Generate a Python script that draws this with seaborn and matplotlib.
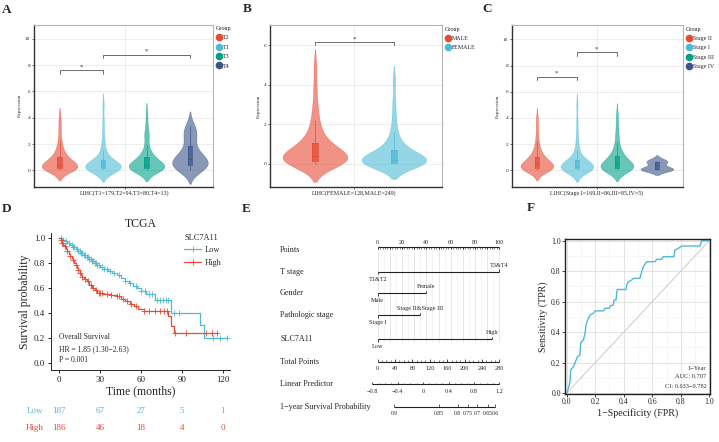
import numpy as np
import pandas as pd
import seaborn as sns
import matplotlib.pyplot as plt
from matplotlib.lines import Line2D
from matplotlib import transforms

sns.set_style("ticks")
plt.rcParams["font.family"] = ["Liberation Serif", "DejaVu Serif"]

W, H = 719, 442
RED, BLUE, GREEN, NAVY = "#E64B35", "#4DBBD5", "#00A087", "#3C5488"
npg = [RED, BLUE, GREEN, NAVY]

# ---------- A: expression by T stage ----------
t_groups = ["T2", "T1", "T3", "T4"]
expr_t2 = [0.0, 0.02, 0.04, 0.05, 0.07, 0.08, 0.1, 0.11, 0.13, 0.15,
           0.17, 0.2, 0.23, 0.26, 0.29, 0.32, 0.34, 0.37, 0.39, 0.42,
           0.46, 0.5, 0.55, 0.6, 0.66, 0.72, 0.78, 0.85, 0.92, 1.0,
           1.1, 1.2, 1.35, 1.5, 1.7, 1.95, 2.3, 2.8, 3.4, 4.0]
expr_t1 = [0.0, 0.02, 0.03, 0.05, 0.06, 0.08, 0.1, 0.11, 0.13, 0.15,
           0.17, 0.19, 0.21, 0.22, 0.24, 0.25, 0.27, 0.28, 0.29, 0.3,
           0.33, 0.36, 0.4, 0.44, 0.48, 0.53, 0.58, 0.63, 0.69, 0.75,
           0.85, 0.95, 1.1, 1.3, 1.55, 1.85, 2.3, 2.9, 3.8, 5.0]
expr_t3 = [0.0, 0.02, 0.04, 0.05, 0.07, 0.08, 0.09, 0.1, 0.11, 0.12,
           0.15, 0.18, 0.21, 0.24, 0.27, 0.3, 0.33, 0.35, 0.38, 0.4,
           0.44, 0.48, 0.53, 0.58, 0.64, 0.7, 0.77, 0.84, 0.92, 1.0,
           1.1, 1.25, 1.4, 1.6, 1.9, 2.5, 2.7, 2.9, 3.5, 4.3]
expr_t4 = [0.05, 0.15, 0.25, 0.3, 0.45, 0.6, 0.7, 0.85, 1.0, 1.3,
           1.45, 2.2, 2.6, 3.0, 3.4]
t_label = "LIHC(T1=179,T2=94,T3=80,T4=13)"

# ---------- B: expression by gender ----------
sex_groups = ["MALE", "FEMALE"]
expr_male = [0.0, 0.02, 0.04, 0.06, 0.08, 0.1, 0.11, 0.12, 0.14, 0.15,
             0.18, 0.21, 0.24, 0.27, 0.3, 0.32, 0.34, 0.36, 0.38, 0.4,
             0.45, 0.5, 0.56, 0.62, 0.68, 0.75, 0.82, 0.9, 0.97, 1.05,
             1.15, 1.3, 1.45, 1.65, 1.9, 2.2, 2.6, 3.1, 3.9, 4.9]
expr_female = [0.0, 0.01, 0.02, 0.02, 0.03, 0.03, 0.04, 0.04, 0.05, 0.05,
               0.07, 0.09, 0.1, 0.12, 0.13, 0.15, 0.16, 0.18, 0.19, 0.2,
               0.24, 0.28, 0.32, 0.36, 0.41, 0.46, 0.52, 0.58, 0.64, 0.7,
               0.78, 0.88, 1.0, 1.15, 1.35, 1.6, 2.0, 2.5, 3.2, 4.2]
sex_label = "LIHC(FEMALE=128,MALE=249)"

# ---------- C: expression by pathologic stage ----------
stage_groups = ["Stage II", "Stage I", "Stage III", "Stage IV"]
expr_s2 = [0.0, 0.03, 0.05, 0.07, 0.08, 0.1, 0.11, 0.13, 0.14, 0.16,
           0.19, 0.22, 0.25, 0.28, 0.31, 0.33, 0.36, 0.38, 0.41, 0.44,
           0.48, 0.52, 0.57, 0.62, 0.68, 0.74, 0.8, 0.87, 0.94, 1.02,
           1.12, 1.22, 1.36, 1.52, 1.72, 1.98, 2.3, 2.8, 3.4, 4.0]
expr_s1 = [0.0, 0.02, 0.03, 0.05, 0.06, 0.08, 0.1, 0.11, 0.13, 0.15,
           0.17, 0.19, 0.21, 0.22, 0.24, 0.25, 0.27, 0.28, 0.29, 0.3,
           0.33, 0.36, 0.4, 0.44, 0.48, 0.53, 0.58, 0.63, 0.69, 0.75,
           0.85, 0.95, 1.1, 1.3, 1.55, 1.85, 2.3, 2.9, 3.8, 5.0]
expr_s3 = [0.0, 0.02, 0.04, 0.06, 0.07, 0.08, 0.09, 0.1, 0.11, 0.12,
           0.16, 0.2, 0.24, 0.27, 0.3, 0.34, 0.37, 0.4, 0.42, 0.45,
           0.5, 0.55, 0.6, 0.66, 0.72, 0.79, 0.86, 0.93, 1.01, 1.1,
           1.2, 1.32, 1.47, 1.65, 1.9, 2.2, 2.6, 3.0, 3.6, 4.3]
expr_s4 = [0.05, 0.08, 0.12, 0.6, 0.75]
stage_label = "LIHC(Stage I=169,II=86,III=85,IV=5)"

# ---------- D: Kaplan-Meier ----------
low_t = [0, 2, 4, 6, 8, 10, 12, 14, 16, 18, 20, 22, 24, 26, 28, 30, 33, 36, 39,
         42, 45, 48, 51, 54, 57, 60, 64, 70, 82, 103, 106]
low_s = [1.0, 0.985, 0.97, 0.955, 0.94, 0.925, 0.91, 0.895, 0.875, 0.86, 0.845,
         0.83, 0.81, 0.795, 0.78, 0.765, 0.75, 0.735, 0.72, 0.70, 0.675, 0.655,
         0.635, 0.615, 0.595, 0.575, 0.55, 0.50, 0.40, 0.30, 0.20]
low_end = 123
low_cens = [1, 3, 5, 7, 9, 10, 11, 13, 14, 15, 16, 17, 18, 19, 20, 21, 22, 23, 24,
            25, 26, 27, 28, 29, 31, 33, 35, 37, 40, 44, 48, 52, 56, 60, 63, 66, 68,
            72, 74, 76, 78, 80, 84, 88, 113, 118, 123]
high_t = [0, 1, 2, 3, 4, 5, 6, 7, 8, 9, 10, 11, 12, 13, 14, 15, 16, 17, 18, 20,
          22, 24, 26, 28, 32, 38, 42, 45, 48, 52, 55, 58, 62, 80, 82, 84]
high_s = [1.0, 0.98, 0.96, 0.945, 0.93, 0.91, 0.89, 0.87, 0.85, 0.835, 0.82, 0.80,
          0.78, 0.76, 0.74, 0.72, 0.70, 0.685, 0.67, 0.65, 0.625, 0.60, 0.58, 0.56,
          0.55, 0.54, 0.53, 0.51, 0.49, 0.47, 0.45, 0.43, 0.41, 0.37, 0.29, 0.235]
high_end = 116
high_cens = [1, 2, 4, 6, 8, 10, 12, 14, 15, 17, 19, 21, 23, 25, 27, 29, 30, 31, 35,
             38, 42, 44, 47, 50, 53, 56, 62, 66, 70, 74, 77, 79, 85, 93, 108, 112, 116]
risk_times = [0, 30, 60, 90, 120]
risk_low = [187, 67, 27, 5, 1]
risk_high = [186, 46, 18, 4, 0]

# ---------- E: nomogram ----------
nomo_vars = ["T stage", "Gender", "Pathologic stage", "SLC7A11"]
nomo_levels = [["T1&T2", "T3&T4"], ["Male", "Female"],
               ["Stage I", "Stage II&Stage III"], ["Low", "High"]]
nomo_points = [[0, 100], [0, 40], [0, 35], [0, 94]]
total_max = 280
lp_ticks = [-0.8, -0.4, 0, 0.4, 0.8, 1.2]
lp_ends = [-0.8, 1.2]
lp_ends_pts = [-4.4, 100.0]
surv_ticks = ["0.9", "0.85", "0.8", "0.75", "0.7", "0.65", "0.6"]
surv_total = [38, 140, 184, 207, 229, 253, 270]

# ---------- F: ROC ----------
roc_fpr = [0, 0.012, 0.023, 0.028, 0.047, 0.058, 0.075, 0.093, 0.098, 0.117,
           0.128, 0.136, 0.145, 0.164, 0.187, 0.199, 0.257, 0.269, 0.299, 0.304,
           0.327, 0.332, 0.346, 0.35, 0.355, 0.416, 0.421, 0.432, 0.455, 0.467,
           0.514, 0.526, 0.537, 0.561, 0.619, 0.631, 0.666, 0.678, 0.752, 0.759,
           0.783, 0.806, 0.935, 0.946, 1.0]
roc_tpr = [0, 0.033, 0.076, 0.153, 0.175, 0.197, 0.24, 0.25, 0.33, 0.35,
           0.39, 0.45, 0.476, 0.513, 0.524, 0.54, 0.54, 0.557, 0.557, 0.572,
           0.579, 0.611, 0.611, 0.655, 0.68, 0.68, 0.71, 0.73, 0.742, 0.753,
           0.753, 0.797, 0.83, 0.862, 0.862, 0.878, 0.878, 0.895, 0.895, 0.939,
           0.95, 0.965, 0.965, 1.0, 1.0]


def px(l, t, r, b):
    return [l / W, 1 - b / H, (r - l) / W, (b - t) / H]


def violin_panel(ax, groups, samples, xlabel, xlim, ylim, yticks, brackets, box_w):
    df = pd.DataFrame({
        "Group": np.repeat(groups, [len(s) for s in samples]),
        "Expression": np.concatenate(samples),
    })
    pal = dict(zip(groups, npg))
    common = dict(data=df, x="Group", y="Expression", hue="Group", order=groups,
                  hue_order=groups, palette=pal, saturation=1, legend=False, ax=ax)
    sns.violinplot(**common, density_norm="width", width=0.82, inner=None,
                   bw_adjust=0.85, linewidth=0.4, alpha=0.6)
    for coll in ax.collections:
        coll.set_edgecolor(coll.get_facecolor())
    sns.boxplot(**common, width=box_w, showfliers=False, showcaps=False,
                linewidth=0, boxprops=dict(alpha=0.75))
    sns.boxplot(**common, width=box_w, fill=False, showfliers=False,
                showcaps=False, linewidth=0.5)

    ax.set_xlim(*xlim)
    ax.set_ylim(*ylim)
    ax.set_yticks(yticks)
    ax.set_xticks([(len(groups) - 1) / 2])
    ax.set_xticklabels([xlabel], fontsize=4.3)
    ax.set_xlabel("")
    ax.set_ylabel("Expression", fontsize=3.8, labelpad=2)
    ax.tick_params(axis="y", labelsize=3.8)
    ax.tick_params(length=1.5, width=0.5, pad=1, color="#333333")
    ax.grid(True, color="#e6e6e6", lw=0.5)
    ax.set_axisbelow(True)
    for s in ["top", "right"]:
        ax.spines[s].set_color("#b5b5b5")
        ax.spines[s].set_linewidth(0.8)
    for s in ["left", "bottom"]:
        ax.spines[s].set_color("#333333")
        ax.spines[s].set_linewidth(1.0)

    dh = 0.02 * (ylim[1] - ylim[0])
    for g1, g2, yb in brackets:
        ax.plot([g1, g1, g2, g2], [yb - dh, yb, yb, yb - dh], color="#555555", lw=0.6)
        ax.text((g1 + g2) / 2, yb + dh * 0.3, "*", ha="center", va="bottom",
                fontsize=5, color="#333333")

    handles = [Line2D([], [], ls="", marker="o", ms=4.5, color=c)
               for c in npg[:len(groups)]]
    ax.legend(handles, groups, title="Group", loc="upper left",
              bbox_to_anchor=(1.015, 0.99), frameon=False, fontsize=4.3,
              title_fontsize=4.3, handletextpad=0.1, labelspacing=0.7,
              borderpad=0, borderaxespad=0, handlelength=1.1, alignment="left")


fig = plt.figure(figsize=(W / 100, H / 100), dpi=100)

# A
ax = fig.add_axes(px(33.5, 24.5, 213, 186.7))
violin_panel(ax, t_groups, [expr_t2, expr_t1, expr_t3, expr_t4], t_label,
             (-0.6, 3.53), (-1.25, 11.1), [0, 2, 4, 6, 8, 10],
             [(0, 1, 7.6), (1, 3, 8.8)], 0.1)

# B
ax = fig.add_axes(px(270, 25, 442, 186.7))
violin_panel(ax, sex_groups, [expr_male, expr_female], sex_label,
             (-0.57, 1.61), (-1.15, 7.02), [0, 2, 4, 6],
             [(0, 1, 6.15)], 0.085)

# C
ax = fig.add_axes(px(511.7, 25, 683.3, 186.7))
violin_panel(ax, stage_groups, [expr_s2, expr_s1, expr_s3, expr_s4], stage_label,
             (-0.63, 3.66), (-1.25, 11.1), [0, 2, 4, 6, 8, 10],
             [(0, 1, 7.15), (1, 2, 9.0)], 0.1)

# D: Kaplan-Meier
ax = fig.add_axes(px(50.7, 233, 230, 370))
curves = [(low_t, low_s, low_end, low_cens, BLUE), (high_t, high_s, high_end, high_cens, RED)]
for t, s, end, cens, col in curves:
    sns.lineplot(x=t + [end], y=s + [s[-1]], drawstyle="steps-post", color=col,
                 lw=0.9, estimator=None, ax=ax)
    idx = np.searchsorted(t, cens, side="right") - 1
    ax.plot(cens, np.array(s)[idx], ls="", marker="+", ms=4, mew=0.6, color=col)
ax.set_xlim(-6.3, 125.3)
ax.set_ylim(-0.058, 1.037)
ax.set_xticks(risk_times)
ax.set_yticks([0, 0.2, 0.4, 0.6, 0.8, 1.0])
ax.set_yticklabels(["0.0", "0.2", "0.4", "0.6", "0.8", "1.0"])
ax.tick_params(labelsize=6.5, length=2.5, width=0.7, pad=1.5)
ax.set_xlabel("Time (months)", fontsize=8.5, labelpad=1)
ax.set_ylabel("Survival probability", fontsize=8.5, labelpad=2)
ax.set_title("TCGA", fontsize=8.5, pad=4)
sns.despine(ax=ax)
for s in ["left", "bottom"]:
    ax.spines[s].set_linewidth(0.7)
ax.text(0, 0.206, "Overall Survival", fontsize=5.5, va="center")
ax.text(0, 0.11, "HR = 1.85 (1.30\u22122.63)", fontsize=5.5, va="center")
ax.text(0, 0.022, "P = 0.001", fontsize=5.5, va="center")
km_handles = [Line2D([], [], color=BLUE, marker="+", lw=0.9, ms=4, mew=0.6),
              Line2D([], [], color=RED, marker="+", lw=0.9, ms=4, mew=0.6)]
ax.legend(km_handles, ["Low", "High"], title="SLC7A11", loc="upper left",
          bbox_to_anchor=(0.745, 0.995), frameon=False, fontsize=6, title_fontsize=6,
          alignment="left", handlelength=2.0, handletextpad=0.5, labelspacing=0.55,
          borderpad=0, borderaxespad=0)
tr = transforms.blended_transform_factory(ax.transData, fig.transFigure)
for yy, name, counts, col in [(411, "Low", risk_low, BLUE), (428, "High", risk_high, RED)]:
    fig.text(-11.5, 1 - yy / H, name, color=col, fontsize=6.5, ha="right",
             va="center", transform=tr)
    for tt, n in zip(risk_times, counts):
        fig.text(tt, 1 - yy / H, str(n), color=col, fontsize=6.5, ha="center",
                 va="center", transform=tr)

# E: nomogram
ax = fig.add_axes(px(255, 228, 525, 425))
ax.set_xlim((255 - 377.7) / 1.216, (525 - 377.7) / 1.216)
ax.set_ylim(425, 228)
ax.axis("off")
points_y, total_y, lp_y, surv_y = 247.3, 361.7, 384.2, 406.7
row_y = [271.7, 293.5, 315.2, 339.3]
ink = "#222222"
label_x = (280 - 377.7) / 1.216
fs_row, fs_tick = 5.9, 4.5

for p in range(0, 101, 5):
    ax.vlines(p, points_y, 342, color="#d5d5d5" if p % 10 == 0 else "#ececec", lw=0.4)

ax.text(label_x, points_y + 2.5, "Points", fontsize=fs_row, va="center")
ax.hlines(points_y, 0, 100, color=ink, lw=0.8)
ax.vlines(np.arange(0, 101, 2), points_y, points_y + 1.3, color=ink, lw=0.4)
ax.vlines(np.arange(0, 101, 10), points_y, points_y + 2.2, color=ink, lw=0.5)
for v in range(0, 101, 20):
    ax.text(v, points_y - 1.8, str(v), fontsize=fs_tick, ha="center", va="bottom")

for y, name, levels, pts in zip(row_y, nomo_vars, nomo_levels, nomo_points):
    ax.text(label_x, y, name, fontsize=fs_row, va="center")
    ax.hlines(y, pts[0], pts[1], color=ink, lw=0.8)
    ax.vlines(pts[0], y, y + 2.5, color=ink, lw=0.6)
    ax.vlines(pts[1], y - 2.5, y, color=ink, lw=0.6)
    ax.text(pts[0], y + 7.5, levels[0], fontsize=fs_tick, ha="center", va="center")
    ax.text(pts[1], y - 6.5, levels[1], fontsize=fs_tick, ha="center", va="center")

tp_scale = 100 / total_max
ax.text(label_x, total_y, "Total Points", fontsize=fs_row, va="center")
ax.hlines(total_y, 0, 100, color=ink, lw=0.8)
ax.vlines(np.arange(0, total_max + 1, 10) * tp_scale, total_y - 1.4, total_y, color=ink, lw=0.4)
ax.vlines(np.arange(0, total_max + 1, 40) * tp_scale, total_y - 2.2, total_y, color=ink, lw=0.5)
for v in range(0, total_max + 1, 40):
    ax.text(v * tp_scale, total_y + 7.3, str(v), fontsize=fs_tick, ha="center", va="center")

lp_minor = np.arange(-0.8, 1.21, 0.1)
ax.text(label_x, lp_y, "Linear Predictor", fontsize=fs_row, va="center")
ax.hlines(lp_y, *lp_ends_pts, color=ink, lw=0.8)
ax.vlines(np.interp(lp_minor, lp_ends, lp_ends_pts), lp_y - 1.4, lp_y, color=ink, lw=0.4)
ax.vlines(np.interp(lp_ticks, lp_ends, lp_ends_pts), lp_y - 2.2, lp_y, color=ink, lw=0.5)
for v in lp_ticks:
    ax.text(np.interp(v, lp_ends, lp_ends_pts), lp_y + 7.8,
            f"{v:g}".replace("-", "\u2212"), fontsize=fs_tick, ha="center", va="center")

surv_pts = np.array(surv_total) * tp_scale
ax.text(label_x, surv_y, "1\u2212year Survival Probability", fontsize=fs_row, va="center")
ax.hlines(surv_y, surv_pts.min(), surv_pts.max(), color=ink, lw=0.8)
ax.vlines(surv_pts, surv_y - 2.2, surv_y, color=ink, lw=0.5)
for pos, lab in zip(surv_pts, surv_ticks):
    ax.text(pos, surv_y + 6.8, lab, fontsize=4.1, ha="center", va="center")

# F: ROC
ax = fig.add_axes(px(565, 239, 710, 394.3))
ax.plot([0, 1], [0, 1], color="#c4c4c4", lw=0.6)
sns.lineplot(x=roc_fpr, y=roc_tpr, sort=False, estimator=None, color=BLUE, lw=1.0, ax=ax)
ax.set_xlim(-0.012, 1.005)
ax.set_ylim(-0.007, 1.011)
ticks = [0, 0.2, 0.4, 0.6, 0.8, 1.0]
ax.set_xticks(ticks)
ax.set_yticks(ticks)
ax.set_xticklabels(["0.0", "0.2", "0.4", "0.6", "0.8", "1.0"])
ax.set_yticklabels(["0.0", "0.2", "0.4", "0.6", "0.8", "1.0"])
ax.set_xticks(np.arange(0.1, 1.0, 0.2), minor=True)
ax.set_yticks(np.arange(0.1, 1.0, 0.2), minor=True)
ax.grid(True, which="major", color="#dedede", lw=0.6)
ax.grid(True, which="minor", color="#f0f0f0", lw=0.4)
ax.set_axisbelow(True)
ax.tick_params(which="minor", length=0)
ax.tick_params(labelsize=5.6, length=2, width=0.6, pad=1)
for s in ax.spines.values():
    s.set_color("#222222")
    s.set_linewidth(1.0)
ax.set_xlabel("1\u2212Specificity (FPR)", fontsize=7.2, labelpad=1)
ax.set_ylabel("Sensitivity (TPR)", fontsize=7.2, labelpad=2)
for yy, txt in [(0.159, "1\u2212Year"), (0.107, "AUC: 0.707"), (0.043, "CI: 0.633\u22120.782")]:
    ax.text(0.98, yy, txt, fontsize=4.6, ha="right", va="center", color="#333333")

# panel letters
for lab, x0, y0 in [("A", 2, 10), ("B", 243, 9), ("C", 482, 9),
                    ("D", 2, 209), ("E", 242, 209), ("F", 527, 208)]:
    fig.text(x0 / W, 1 - y0 / H, lab, fontsize=9.5, fontweight="bold", va="center")

fig.savefig("out.png", dpi=100)
